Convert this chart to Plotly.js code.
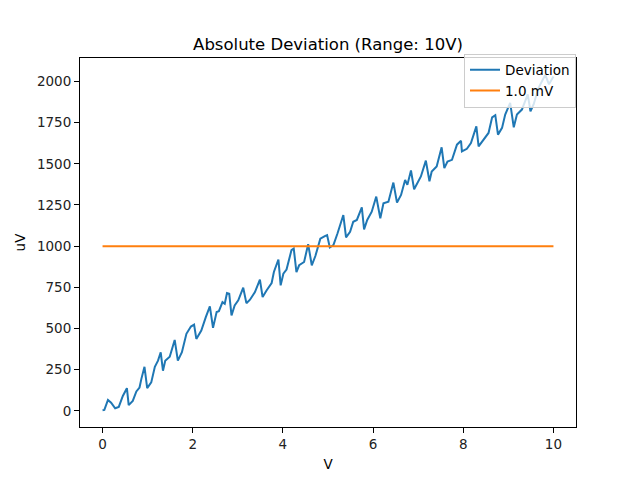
<!DOCTYPE html>
<html>
<head>
<meta charset="utf-8">
<script src="https://cdn.plot.ly/plotly-3.0.1.min.js"></script>
<style>
  html, body { margin: 0; padding: 0; background: #fff; }
  #chart { width: 640px; height: 480px; }
</style>
</head>
<body>
<div id="chart"></div>
<script>
// Values (V on x, deviation in uV on y)
const volts = [
  0.00, 0.04, 0.12, 0.19, 0.28, 0.36, 0.45, 0.54, 0.58, 0.67,
  0.75, 0.82, 0.86, 0.93, 0.99, 1.08, 1.16, 1.23, 1.29, 1.34,
  1.39, 1.49, 1.60, 1.67, 1.76, 1.86, 1.96, 2.03, 2.08, 2.19,
  2.29, 2.38, 2.45, 2.53, 2.58, 2.66, 2.71, 2.76, 2.81, 2.86,
  2.93, 3.01, 3.12, 3.19, 3.27, 3.38, 3.49, 3.55, 3.64, 3.75,
  3.80, 3.90, 3.95, 4.01, 4.08, 4.19, 4.24, 4.30, 4.36, 4.47,
  4.56, 4.64, 4.72, 4.83, 4.93, 4.98, 5.04, 5.12, 5.21, 5.27,
  5.34, 5.40, 5.49, 5.56, 5.64, 5.75, 5.80, 5.87, 5.97, 6.07,
  6.16, 6.23, 6.34, 6.45, 6.53, 6.62, 6.71, 6.76, 6.84, 6.91,
  7.01, 7.06, 7.17, 7.25, 7.30, 7.41, 7.52, 7.58, 7.65, 7.75,
  7.86, 7.95, 7.97, 8.08, 8.17, 8.29, 8.34, 8.44, 8.56, 8.64,
  8.71, 8.77, 8.86, 8.93, 9.04, 9.12, 9.19, 9.30, 9.43, 9.49,
  9.56, 9.67, 9.82, 9.90, 10.00,
];
const deviation = [
  4, 6, 67, 50, 16, 24, 91, 138, 35, 61,
  118, 142, 193, 268, 138, 173, 268, 305, 356, 244,
  305, 329, 431, 305, 356, 468, 512, 524, 437, 488,
  569, 634, 504, 600, 605, 660, 650, 715, 711, 579,
  640, 671, 748, 654, 675, 721, 797, 691, 732, 776,
  843, 919, 762, 833, 858, 976, 986, 843, 884, 904,
  1012, 884, 940, 1045, 1061, 1067, 992, 1006, 1077, 1134,
  1189, 1053, 1087, 1148, 1159, 1236, 1102, 1159, 1209, 1301,
  1169, 1260, 1270, 1386, 1264, 1311, 1402, 1372, 1459, 1345,
  1402, 1423, 1519, 1394, 1453, 1484, 1600, 1474, 1514, 1524,
  1616, 1640, 1575, 1591, 1626, 1727, 1606, 1646, 1687, 1782,
  1795, 1677, 1718, 1799, 1870, 1721, 1799, 1829, 1921, 1819,
  1860, 1961, 2040, 1982, 2030,
];

const limitVolts = [0, 10];
const limitUv = [1000, 1000];

const xTicks = [0, 2, 4, 6, 8, 10];
const yTicks = [0, 250, 500, 750, 1000, 1250, 1500, 1750, 2000];

const FONT = "'DejaVu Sans', sans-serif";

const traces = [
  {
    x: volts,
    y: deviation,
    type: "scatter",
    mode: "lines",
    name: "Deviation",
    line: { color: "#1f77b4", width: 2 },
  },
  {
    x: limitVolts,
    y: limitUv,
    type: "scatter",
    mode: "lines",
    name: "1.0 mV",
    line: { color: "#ff7f0e", width: 2 },
  },
];

const axisCommon = {
  showgrid: false,
  zeroline: false,
  showline: true,
  mirror: true,
  linecolor: "#000",
  linewidth: 1,
  ticks: "outside",
  ticklen: 5,
  tickwidth: 1,
  tickcolor: "#000",
  tickfont: { family: FONT, size: 13.5, color: "#222" },
};

const layout = {
  width: 640,
  height: 480,
  margin: { l: 80, r: 64, t: 58, b: 53 },
  paper_bgcolor: "#ffffff",
  plot_bgcolor: "#ffffff",
  font: { family: FONT, size: 13.5, color: "#000" },
  title: {
    text: "Absolute Deviation (Range: 10V)",
    font: { family: FONT, size: 16.5, color: "#000" },
    x: 0.5125,
    xanchor: "center",
    y: 0.908,
    yanchor: "middle",
  },
  xaxis: {
    ...axisCommon,
    range: [-0.5, 10.5],
    tickvals: xTicks,
    title: { text: "V", font: { family: FONT, size: 13.5 }, standoff: 8 },
  },
  yaxis: {
    ...axisCommon,
    range: [-97.6, 2142],
    tickvals: yTicks,
    title: { text: "uV", font: { family: FONT, size: 13.5 }, standoff: 8 },
  },
  showlegend: true,
  legend: {
    x: 1,
    xanchor: "right",
    y: 1.012,
    yanchor: "top",
    bgcolor: "rgba(255,255,255,0.8)",
    bordercolor: "#cccccc",
    borderwidth: 1,
    font: { family: FONT, size: 13.5, color: "#000" },
    tracegroupgap: 0,
    itemwidth: 30,
  },
};

Plotly.newPlot("chart", traces, layout, { displayModeBar: false, staticPlot: true });
</script>
</body>
</html>
